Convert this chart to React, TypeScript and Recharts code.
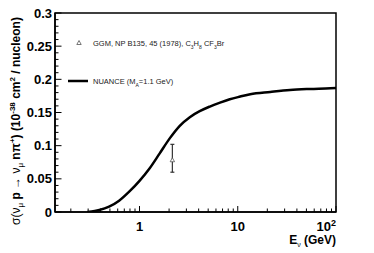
import { ComposedChart, Line, Scatter, ErrorBar, XAxis, YAxis, ReferenceArea, Legend } from "recharts";

// NUANCE curve (M_A = 1.1 GeV)
const curveE = [0.295, 0.35, 0.39, 0.49, 0.62, 0.79, 1.0, 1.27, 1.6, 2.03, 2.57, 3.25, 4.1, 5.2, 6.6, 8.3, 10.6, 13.4, 21.4, 34, 54.6, 88, 100];
const curveSigma = [0, 0.0015, 0.003, 0.008, 0.017, 0.031, 0.047, 0.066, 0.088, 0.111, 0.13, 0.143, 0.152, 0.159, 0.165, 0.17, 0.174, 0.1775, 0.181, 0.184, 0.1855, 0.1865, 0.187];

// GGM point
const ggmE = [2.16];
const ggmSigma = [0.078];
const ggmErrLow = [0.018];
const ggmErrHigh = [0.024];

const xTicks = [0.2, 0.3, 0.4, 0.5, 0.6, 0.7, 0.8, 0.9, 1, 2, 3, 4, 5, 6, 7, 8, 9, 10, 20, 30, 40, 50, 60, 70, 80, 90, 100];
const xMajor = [1, 10, 100];
const yTicks = [0, 0.01, 0.02, 0.03, 0.04, 0.05, 0.06, 0.07, 0.08, 0.09, 0.1, 0.11, 0.12, 0.13, 0.14, 0.15, 0.16, 0.17, 0.18, 0.19, 0.2, 0.21, 0.22, 0.23, 0.24, 0.25, 0.26, 0.27, 0.28, 0.29, 0.3];
const yMajor = [0, 0.05, 0.1, 0.15, 0.2, 0.25, 0.3];

const curveData = curveE.map((e, i) => ({ x: e, y: curveSigma[i] }));
const ggmData = ggmE.map((e, i) => ({ x: e, y: ggmSigma[i], err: [ggmErrLow[i], ggmErrHigh[i]] }));

const FONT = "'Liberation Sans', Arial, Helvetica, sans-serif";

function XTick(props: any) {
    const { x, y, payload } = props;
    const v = payload.value;
    const major = xMajor.includes(v);
    return (
        <g>
            <line x1={x} x2={x} y1={y} y2={y - (major ? 6 : 3.5)} stroke="#000" strokeWidth={1} />
            {major && v !== 100 && (
                <text x={x} y={y + 18.5} textAnchor="middle" fontFamily={FONT} fontWeight="bold" fontSize={13} fill="#000">
                    {String(v)}
                </text>
            )}
            {v === 100 && (
                <text x={x} y={y + 18.5} textAnchor="end" fontFamily={FONT} fontWeight="bold" fontSize={13} fill="#000">
                    10<tspan dy={-5} fontSize={9}>2</tspan>
                </text>
            )}
        </g>
    );
}

function YTick(props: any) {
    const { x, y, payload } = props;
    const v = payload.value;
    const major = yMajor.some((m) => Math.abs(m - v) < 1e-9);
    return (
        <g>
            <line x1={x} x2={x + (major ? 6.5 : 3.5)} y1={y} y2={y} stroke="#000" strokeWidth={1} />
            {major && (
                <text x={x - 3} y={y + 4.5} textAnchor="end" fontFamily={FONT} fontWeight="bold" fontSize={13} fill="#000">
                    {String(v)}
                </text>
            )}
        </g>
    );
}

function YTitle() {
    return (
        <text x={20} y={121} transform="rotate(-90 20 121)" textAnchor="middle" fontFamily={FONT} fontSize={12} fill="#000">
            <tspan fontWeight="normal">σ(ν</tspan>
            <tspan dy={3} fontSize={8}>μ</tspan>
            <tspan dy={-3} fontWeight="bold"> p </tspan>
            <tspan fontWeight="normal">→ ν</tspan>
            <tspan dy={3} fontSize={8}>μ</tspan>
            <tspan dy={-3} fontWeight="bold"> nπ</tspan>
            <tspan dy={-5} fontSize={8} fontWeight="bold">+</tspan>
            <tspan dy={5} fontWeight="bold">) (10</tspan>
            <tspan dy={-5} fontSize={8} fontWeight="bold">-38</tspan>
            <tspan dy={5} fontWeight="bold"> cm</tspan>
            <tspan dy={-5} fontSize={8} fontWeight="bold">2</tspan>
            <tspan dy={5} fontWeight="bold"> / nucleon)</tspan>
        </text>
    );
}

function XTitle() {
    return (
        <text x={336} y={244} textAnchor="end" fontFamily={FONT} fontSize={12} fontWeight="bold" fill="#000">
            E<tspan dy={3} fontSize={7} fontWeight="normal">ν</tspan>
            <tspan dy={-3}> (GeV)</tspan>
        </text>
    );
}

function Triangle(props: any) {
    const { cx, cy } = props;
    return <path d={`M${cx},${cy - 2.5} L${cx + 2.2},${cy + 1.5} L${cx - 2.2},${cy + 1.5} Z`} fill="#fff" stroke="#555" strokeWidth={0.8} />;
}

function LegendBox() {
    return (
        <svg width={220} height={64} style={{ display: "block" }}>
            <path d="M19,10.5 L21.2,14.5 L16.8,14.5 Z" fill="#fff" stroke="#555" strokeWidth={0.8} />
            <text x={33} y={16} fontFamily={FONT} fontSize={7.5} fill="#222">
                GGM, NP B135, 45 (1978), C<tspan dy={2.5} fontSize={5}>3</tspan>
                <tspan dy={-2.5}>H</tspan>
                <tspan dy={2.5} fontSize={5}>8</tspan>
                <tspan dy={-2.5}> CF</tspan>
                <tspan dy={2.5} fontSize={5}>3</tspan>
                <tspan dy={-2.5}>Br</tspan>
            </text>
            <line x1={8} x2={28} y1={51} y2={51} stroke="#000" strokeWidth={2.5} />
            <text x={33} y={54} fontFamily={FONT} fontSize={7.5} fill="#222">
                NUANCE (M<tspan dy={2.5} fontSize={5}>A</tspan>
                <tspan dy={-2.5}>=1.1 GeV)</tspan>
            </text>
        </svg>
    );
}

export default function App() {
    return (
        <div style={{ position: "absolute", left: 0, top: 0, background: "#fff" }}>
            <ComposedChart width={374} height={253} margin={{ top: 13, right: 38, left: 0, bottom: 0 }}>
                <XAxis
                    type="number"
                    dataKey="x"
                    scale="log"
                    domain={[0.138, 100]}
                    allowDataOverflow
                    ticks={xTicks}
                    interval={0}
                    tick={<XTick />}
                    tickLine={false}
                    tickSize={0}
                    tickMargin={0}
                    height={41}
                    axisLine={{ stroke: "#000", strokeWidth: 1.5 }}
                    label={{ content: () => <XTitle /> }}
                />
                <YAxis
                    type="number"
                    dataKey="y"
                    domain={[0, 0.3]}
                    allowDataOverflow
                    ticks={yTicks}
                    interval={0}
                    tick={<YTick />}
                    tickLine={false}
                    tickSize={0}
                    tickMargin={0}
                    width={55}
                    axisLine={{ stroke: "#000", strokeWidth: 1.5 }}
                    label={{ content: () => <YTitle /> }}
                />
                <ReferenceArea x1={0.138} x2={100} y1={0} y2={0.3} fill="none" stroke="#000" strokeWidth={1.5} />
                <Legend
                    layout="horizontal"
                    verticalAlign="middle"
                    align="center"
                    content={() => <LegendBox />}
                    wrapperStyle={{ left: 60, top: 30, width: 220, height: 64 }}
                />
                <Line
                    data={curveData}
                    dataKey="y"
                    type="monotone"
                    stroke="#000"
                    strokeWidth={2.5}
                    dot={false}
                    isAnimationActive={false}
                    legendType="none"
                />
                <Scatter data={ggmData} dataKey="y" shape={<Triangle />} isAnimationActive={false} legendType="none">
                    <ErrorBar dataKey="err" direction="y" width={2} stroke="#333" strokeWidth={1.2} />
                </Scatter>
            </ComposedChart>
        </div>
    );
}
